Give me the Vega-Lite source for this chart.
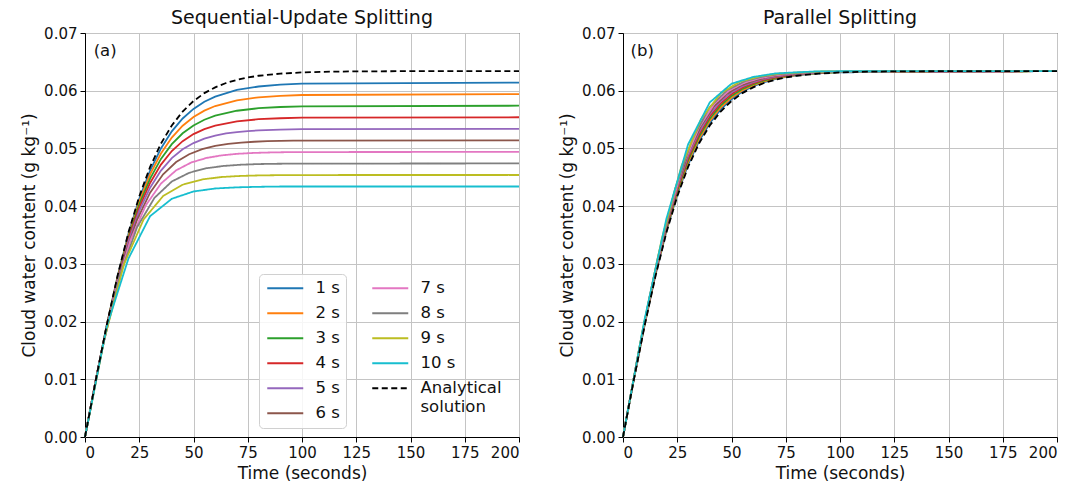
{
  "$schema": "https://vega.github.io/schema/vega-lite/v6.json",
  "padding": {"left": 20, "top": 8, "right": 5, "bottom": 5},
  "config": {
    "font": "DejaVu Sans",
    "view": {"stroke": "black", "strokeWidth": 1},
    "axis": {"grid": true, "gridColor": "#c4c4c4", "gridWidth": 1, "domainColor": "black", "tickColor": "black", "tickSize": 5, "labelFontSize": 15, "labelColor": "#111", "titleFontSize": 17, "titleFontWeight": "normal", "titleColor": "#111", "labelPadding": 3, "titlePadding": 5},
    "title": {"fontSize": 19, "fontWeight": "normal", "color": "#111", "offset": -2},
    "legend": {"symbolType": "M-1,0H5", "symbolSize": 144, "symbolStrokeWidth": 1.8, "labelFontSize": 16.5, "labelColor": "#111", "labelOffset": 34, "rowPadding": 8, "padding": 6, "labelLimit": 200, "orient": "none"},
    "concat": {"spacing": 34}
  },
  "datasets": {
    "d": [
      {"p":"a","s":"1 s","t":0,"y":0},{"p":"a","s":"1 s","t":5,"y":0.00991},{"p":"a","s":"1 s","t":10,"y":0.01932},{"p":"a","s":"1 s","t":15,"y":0.02782},{"p":"a","s":"1 s","t":20,"y":0.03516},{"p":"a","s":"1 s","t":25,"y":0.04126},{"p":"a","s":"1 s","t":30,"y":0.04617},{"p":"a","s":"1 s","t":35,"y":0.05},{"p":"a","s":"1 s","t":40,"y":0.05296},{"p":"a","s":"1 s","t":45,"y":0.05519},{"p":"a","s":"1 s","t":50,"y":0.05685},{"p":"a","s":"1 s","t":55,"y":0.05808},{"p":"a","s":"1 s","t":60,"y":0.05898},{"p":"a","s":"1 s","t":70,"y":0.06013},{"p":"a","s":"1 s","t":80,"y":0.06073},{"p":"a","s":"1 s","t":90,"y":0.06105},{"p":"a","s":"1 s","t":100,"y":0.06122},{"p":"a","s":"1 s","t":200,"y":0.0614},
      {"p":"a","s":"2 s","t":0,"y":0},{"p":"a","s":"2 s","t":5,"y":0.00991},{"p":"a","s":"2 s","t":10,"y":0.01928},{"p":"a","s":"2 s","t":15,"y":0.02768},{"p":"a","s":"2 s","t":20,"y":0.03488},{"p":"a","s":"2 s","t":25,"y":0.04079},{"p":"a","s":"2 s","t":30,"y":0.04549},{"p":"a","s":"2 s","t":35,"y":0.04912},{"p":"a","s":"2 s","t":40,"y":0.05188},{"p":"a","s":"2 s","t":45,"y":0.05393},{"p":"a","s":"2 s","t":50,"y":0.05544},{"p":"a","s":"2 s","t":55,"y":0.05655},{"p":"a","s":"2 s","t":60,"y":0.05735},{"p":"a","s":"2 s","t":70,"y":0.05834},{"p":"a","s":"2 s","t":80,"y":0.05886},{"p":"a","s":"2 s","t":90,"y":0.05912},{"p":"a","s":"2 s","t":100,"y":0.05926},{"p":"a","s":"2 s","t":200,"y":0.0594},
      {"p":"a","s":"3 s","t":0,"y":0},{"p":"a","s":"3 s","t":5,"y":0.0099},{"p":"a","s":"3 s","t":10,"y":0.01923},{"p":"a","s":"3 s","t":15,"y":0.02754},{"p":"a","s":"3 s","t":20,"y":0.03457},{"p":"a","s":"3 s","t":25,"y":0.04029},{"p":"a","s":"3 s","t":30,"y":0.04477},{"p":"a","s":"3 s","t":35,"y":0.04818},{"p":"a","s":"3 s","t":40,"y":0.05074},{"p":"a","s":"3 s","t":45,"y":0.05262},{"p":"a","s":"3 s","t":50,"y":0.05398},{"p":"a","s":"3 s","t":55,"y":0.05497},{"p":"a","s":"3 s","t":60,"y":0.05567},{"p":"a","s":"3 s","t":70,"y":0.05653},{"p":"a","s":"3 s","t":80,"y":0.05697},{"p":"a","s":"3 s","t":90,"y":0.05718},{"p":"a","s":"3 s","t":100,"y":0.05729},{"p":"a","s":"3 s","t":200,"y":0.0574},
      {"p":"a","s":"4 s","t":0,"y":0},{"p":"a","s":"4 s","t":5,"y":0.00989},{"p":"a","s":"4 s","t":10,"y":0.01917},{"p":"a","s":"4 s","t":15,"y":0.02737},{"p":"a","s":"4 s","t":20,"y":0.03424},{"p":"a","s":"4 s","t":25,"y":0.03975},{"p":"a","s":"4 s","t":30,"y":0.04401},{"p":"a","s":"4 s","t":35,"y":0.0472},{"p":"a","s":"4 s","t":40,"y":0.04955},{"p":"a","s":"4 s","t":45,"y":0.05126},{"p":"a","s":"4 s","t":50,"y":0.05248},{"p":"a","s":"4 s","t":55,"y":0.05335},{"p":"a","s":"4 s","t":60,"y":0.05396},{"p":"a","s":"4 s","t":70,"y":0.0547},{"p":"a","s":"4 s","t":80,"y":0.05506},{"p":"a","s":"4 s","t":90,"y":0.05523},{"p":"a","s":"4 s","t":100,"y":0.05532},{"p":"a","s":"4 s","t":200,"y":0.0554},
      {"p":"a","s":"5 s","t":0,"y":0},{"p":"a","s":"5 s","t":5,"y":0.00988},{"p":"a","s":"5 s","t":10,"y":0.01911},{"p":"a","s":"5 s","t":15,"y":0.0272},{"p":"a","s":"5 s","t":20,"y":0.03388},{"p":"a","s":"5 s","t":25,"y":0.03917},{"p":"a","s":"5 s","t":30,"y":0.04319},{"p":"a","s":"5 s","t":35,"y":0.04616},{"p":"a","s":"5 s","t":40,"y":0.04832},{"p":"a","s":"5 s","t":45,"y":0.04985},{"p":"a","s":"5 s","t":50,"y":0.05093},{"p":"a","s":"5 s","t":55,"y":0.05169},{"p":"a","s":"5 s","t":60,"y":0.05222},{"p":"a","s":"5 s","t":65,"y":0.05259},{"p":"a","s":"5 s","t":70,"y":0.05284},{"p":"a","s":"5 s","t":75,"y":0.05301},{"p":"a","s":"5 s","t":80,"y":0.05313},{"p":"a","s":"5 s","t":90,"y":0.05327},{"p":"a","s":"5 s","t":100,"y":0.05334},{"p":"a","s":"5 s","t":200,"y":0.0534},
      {"p":"a","s":"6 s","t":0,"y":0},{"p":"a","s":"6 s","t":6,"y":0.01179},{"p":"a","s":"6 s","t":12,"y":0.0224},{"p":"a","s":"6 s","t":18,"y":0.03108},{"p":"a","s":"6 s","t":24,"y":0.03764},{"p":"a","s":"6 s","t":30,"y":0.04233},{"p":"a","s":"6 s","t":36,"y":0.04552},{"p":"a","s":"6 s","t":42,"y":0.04764},{"p":"a","s":"6 s","t":48,"y":0.049},{"p":"a","s":"6 s","t":54,"y":0.04988},{"p":"a","s":"6 s","t":60,"y":0.05044},{"p":"a","s":"6 s","t":66,"y":0.0508},{"p":"a","s":"6 s","t":72,"y":0.05102},{"p":"a","s":"6 s","t":78,"y":0.05116},{"p":"a","s":"6 s","t":84,"y":0.05125},{"p":"a","s":"6 s","t":90,"y":0.05131},{"p":"a","s":"6 s","t":96,"y":0.05134},{"p":"a","s":"6 s","t":200,"y":0.0514},
      {"p":"a","s":"7 s","t":0,"y":0},{"p":"a","s":"7 s","t":7,"y":0.01364},{"p":"a","s":"7 s","t":14,"y":0.02534},{"p":"a","s":"7 s","t":21,"y":0.03415},{"p":"a","s":"7 s","t":28,"y":0.04013},{"p":"a","s":"7 s","t":35,"y":0.04391},{"p":"a","s":"7 s","t":42,"y":0.04621},{"p":"a","s":"7 s","t":49,"y":0.04757},{"p":"a","s":"7 s","t":56,"y":0.04835},{"p":"a","s":"7 s","t":63,"y":0.0488},{"p":"a","s":"7 s","t":70,"y":0.04906},{"p":"a","s":"7 s","t":77,"y":0.04921},{"p":"a","s":"7 s","t":84,"y":0.04929},{"p":"a","s":"7 s","t":91,"y":0.04934},{"p":"a","s":"7 s","t":98,"y":0.04937},{"p":"a","s":"7 s","t":200,"y":0.0494},
      {"p":"a","s":"8 s","t":0,"y":0},{"p":"a","s":"8 s","t":8,"y":0.01542},{"p":"a","s":"8 s","t":16,"y":0.02789},{"p":"a","s":"8 s","t":24,"y":0.03635},{"p":"a","s":"8 s","t":32,"y":0.04143},{"p":"a","s":"8 s","t":40,"y":0.04427},{"p":"a","s":"8 s","t":48,"y":0.04578},{"p":"a","s":"8 s","t":56,"y":0.04657},{"p":"a","s":"8 s","t":64,"y":0.04697},{"p":"a","s":"8 s","t":72,"y":0.04718},{"p":"a","s":"8 s","t":80,"y":0.04729},{"p":"a","s":"8 s","t":88,"y":0.04734},{"p":"a","s":"8 s","t":96,"y":0.04737},{"p":"a","s":"8 s","t":200,"y":0.0474},
      {"p":"a","s":"9 s","t":0,"y":0},{"p":"a","s":"9 s","t":9,"y":0.01711},{"p":"a","s":"9 s","t":18,"y":0.02996},{"p":"a","s":"9 s","t":27,"y":0.0377},{"p":"a","s":"9 s","t":36,"y":0.04175},{"p":"a","s":"9 s","t":45,"y":0.04371},{"p":"a","s":"9 s","t":54,"y":0.04463},{"p":"a","s":"9 s","t":63,"y":0.04505},{"p":"a","s":"9 s","t":72,"y":0.04524},{"p":"a","s":"9 s","t":81,"y":0.04533},{"p":"a","s":"9 s","t":90,"y":0.04537},{"p":"a","s":"9 s","t":99,"y":0.04539},{"p":"a","s":"9 s","t":200,"y":0.0454},
      {"p":"a","s":"10 s","t":0,"y":0},{"p":"a","s":"10 s","t":10,"y":0.0191},{"p":"a","s":"10 s","t":20,"y":0.0309},{"p":"a","s":"10 s","t":30,"y":0.03826},{"p":"a","s":"10 s","t":40,"y":0.04128},{"p":"a","s":"10 s","t":50,"y":0.04254},{"p":"a","s":"10 s","t":60,"y":0.04306},{"p":"a","s":"10 s","t":70,"y":0.04326},{"p":"a","s":"10 s","t":80,"y":0.04335},{"p":"a","s":"10 s","t":90,"y":0.0434},{"p":"a","s":"10 s","t":200,"y":0.0434},
      {"p":"a","s":"Analytical solution","t":0,"y":0},{"p":"a","s":"Analytical solution","t":5,"y":0.00992},{"p":"a","s":"Analytical solution","t":10,"y":0.01936},{"p":"a","s":"Analytical solution","t":15,"y":0.02793},{"p":"a","s":"Analytical solution","t":20,"y":0.03541},{"p":"a","s":"Analytical solution","t":25,"y":0.04169},{"p":"a","s":"Analytical solution","t":30,"y":0.0468},{"p":"a","s":"Analytical solution","t":35,"y":0.05083},{"p":"a","s":"Analytical solution","t":40,"y":0.05398},{"p":"a","s":"Analytical solution","t":45,"y":0.0564},{"p":"a","s":"Analytical solution","t":50,"y":0.05821},{"p":"a","s":"Analytical solution","t":55,"y":0.05958},{"p":"a","s":"Analytical solution","t":60,"y":0.06058},{"p":"a","s":"Analytical solution","t":65,"y":0.06133},{"p":"a","s":"Analytical solution","t":70,"y":0.06188},{"p":"a","s":"Analytical solution","t":75,"y":0.06229},{"p":"a","s":"Analytical solution","t":80,"y":0.06259},{"p":"a","s":"Analytical solution","t":90,"y":0.06296},{"p":"a","s":"Analytical solution","t":100,"y":0.06317},{"p":"a","s":"Analytical solution","t":110,"y":0.06328},{"p":"a","s":"Analytical solution","t":125,"y":0.06335},{"p":"a","s":"Analytical solution","t":150,"y":0.06339},{"p":"a","s":"Analytical solution","t":200,"y":0.0634},

      {"p":"b","s":"1 s","t":0,"y":0},{"p":"b","s":"1 s","t":5,"y":0.00998},{"p":"b","s":"1 s","t":10,"y":0.01947},{"p":"b","s":"1 s","t":15,"y":0.02811},{"p":"b","s":"1 s","t":20,"y":0.03565},{"p":"b","s":"1 s","t":25,"y":0.04201},{"p":"b","s":"1 s","t":30,"y":0.04719},{"p":"b","s":"1 s","t":35,"y":0.05123},{"p":"b","s":"1 s","t":40,"y":0.05438},{"p":"b","s":"1 s","t":45,"y":0.05675},{"p":"b","s":"1 s","t":50,"y":0.05851},{"p":"b","s":"1 s","t":55,"y":0.05982},{"p":"b","s":"1 s","t":60,"y":0.06076},{"p":"b","s":"1 s","t":65,"y":0.06148},{"p":"b","s":"1 s","t":70,"y":0.06199},{"p":"b","s":"1 s","t":75,"y":0.06238},{"p":"b","s":"1 s","t":80,"y":0.06265},{"p":"b","s":"1 s","t":85,"y":0.06286},{"p":"b","s":"1 s","t":90,"y":0.063},{"p":"b","s":"1 s","t":95,"y":0.06311},{"p":"b","s":"1 s","t":100,"y":0.06319},{"p":"b","s":"1 s","t":200,"y":0.0634},
      {"p":"b","s":"2 s","t":0,"y":0},{"p":"b","s":"2 s","t":5,"y":0.01003},{"p":"b","s":"2 s","t":10,"y":0.01958},{"p":"b","s":"2 s","t":15,"y":0.02828},{"p":"b","s":"2 s","t":20,"y":0.03589},{"p":"b","s":"2 s","t":25,"y":0.04232},{"p":"b","s":"2 s","t":30,"y":0.04758},{"p":"b","s":"2 s","t":35,"y":0.05162},{"p":"b","s":"2 s","t":40,"y":0.05478},{"p":"b","s":"2 s","t":45,"y":0.0571},{"p":"b","s":"2 s","t":50,"y":0.05881},{"p":"b","s":"2 s","t":55,"y":0.06006},{"p":"b","s":"2 s","t":60,"y":0.06094},{"p":"b","s":"2 s","t":65,"y":0.06162},{"p":"b","s":"2 s","t":70,"y":0.0621},{"p":"b","s":"2 s","t":75,"y":0.06246},{"p":"b","s":"2 s","t":80,"y":0.06271},{"p":"b","s":"2 s","t":85,"y":0.06291},{"p":"b","s":"2 s","t":90,"y":0.06304},{"p":"b","s":"2 s","t":95,"y":0.06314},{"p":"b","s":"2 s","t":100,"y":0.06321},{"p":"b","s":"2 s","t":200,"y":0.0634},
      {"p":"b","s":"3 s","t":0,"y":0},{"p":"b","s":"3 s","t":5,"y":0.01009},{"p":"b","s":"3 s","t":10,"y":0.01969},{"p":"b","s":"3 s","t":15,"y":0.02846},{"p":"b","s":"3 s","t":20,"y":0.03613},{"p":"b","s":"3 s","t":25,"y":0.04264},{"p":"b","s":"3 s","t":30,"y":0.04797},{"p":"b","s":"3 s","t":35,"y":0.05202},{"p":"b","s":"3 s","t":40,"y":0.05518},{"p":"b","s":"3 s","t":45,"y":0.05745},{"p":"b","s":"3 s","t":50,"y":0.05911},{"p":"b","s":"3 s","t":55,"y":0.0603},{"p":"b","s":"3 s","t":60,"y":0.06112},{"p":"b","s":"3 s","t":65,"y":0.06177},{"p":"b","s":"3 s","t":70,"y":0.06221},{"p":"b","s":"3 s","t":75,"y":0.06255},{"p":"b","s":"3 s","t":80,"y":0.06277},{"p":"b","s":"3 s","t":85,"y":0.06296},{"p":"b","s":"3 s","t":90,"y":0.06308},{"p":"b","s":"3 s","t":95,"y":0.06317},{"p":"b","s":"3 s","t":100,"y":0.06323},{"p":"b","s":"3 s","t":200,"y":0.0634},
      {"p":"b","s":"4 s","t":0,"y":0},{"p":"b","s":"4 s","t":5,"y":0.01014},{"p":"b","s":"4 s","t":10,"y":0.0198},{"p":"b","s":"4 s","t":15,"y":0.02863},{"p":"b","s":"4 s","t":20,"y":0.03637},{"p":"b","s":"4 s","t":25,"y":0.04295},{"p":"b","s":"4 s","t":30,"y":0.04836},{"p":"b","s":"4 s","t":35,"y":0.05241},{"p":"b","s":"4 s","t":40,"y":0.05558},{"p":"b","s":"4 s","t":45,"y":0.0578},{"p":"b","s":"4 s","t":50,"y":0.05941},{"p":"b","s":"4 s","t":55,"y":0.06054},{"p":"b","s":"4 s","t":60,"y":0.0613},{"p":"b","s":"4 s","t":65,"y":0.06191},{"p":"b","s":"4 s","t":70,"y":0.06232},{"p":"b","s":"4 s","t":75,"y":0.06263},{"p":"b","s":"4 s","t":80,"y":0.06283},{"p":"b","s":"4 s","t":85,"y":0.06301},{"p":"b","s":"4 s","t":90,"y":0.06312},{"p":"b","s":"4 s","t":95,"y":0.0632},{"p":"b","s":"4 s","t":100,"y":0.06325},{"p":"b","s":"4 s","t":200,"y":0.0634},
      {"p":"b","s":"5 s","t":0,"y":0},{"p":"b","s":"5 s","t":5,"y":0.0102},{"p":"b","s":"5 s","t":10,"y":0.01991},{"p":"b","s":"5 s","t":15,"y":0.02881},{"p":"b","s":"5 s","t":20,"y":0.03661},{"p":"b","s":"5 s","t":25,"y":0.04327},{"p":"b","s":"5 s","t":30,"y":0.04875},{"p":"b","s":"5 s","t":35,"y":0.05281},{"p":"b","s":"5 s","t":40,"y":0.05598},{"p":"b","s":"5 s","t":45,"y":0.05815},{"p":"b","s":"5 s","t":50,"y":0.05971},{"p":"b","s":"5 s","t":55,"y":0.06078},{"p":"b","s":"5 s","t":60,"y":0.06148},{"p":"b","s":"5 s","t":65,"y":0.06206},{"p":"b","s":"5 s","t":70,"y":0.06243},{"p":"b","s":"5 s","t":75,"y":0.06272},{"p":"b","s":"5 s","t":80,"y":0.06289},{"p":"b","s":"5 s","t":90,"y":0.06316},{"p":"b","s":"5 s","t":100,"y":0.06327},{"p":"b","s":"5 s","t":200,"y":0.0634},
      {"p":"b","s":"6 s","t":0,"y":0},{"p":"b","s":"6 s","t":6,"y":0.01226},{"p":"b","s":"6 s","t":12,"y":0.02374},{"p":"b","s":"6 s","t":18,"y":0.03385},{"p":"b","s":"6 s","t":24,"y":0.04233},{"p":"b","s":"6 s","t":30,"y":0.04914},{"p":"b","s":"6 s","t":36,"y":0.05392},{"p":"b","s":"6 s","t":42,"y":0.05731},{"p":"b","s":"6 s","t":48,"y":0.05947},{"p":"b","s":"6 s","t":54,"y":0.06085},{"p":"b","s":"6 s","t":60,"y":0.06166},{"p":"b","s":"6 s","t":66,"y":0.06229},{"p":"b","s":"6 s","t":72,"y":0.06267},{"p":"b","s":"6 s","t":78,"y":0.0629},{"p":"b","s":"6 s","t":84,"y":0.06308},{"p":"b","s":"6 s","t":90,"y":0.0632},{"p":"b","s":"6 s","t":96,"y":0.06327},{"p":"b","s":"6 s","t":200,"y":0.0634},
      {"p":"b","s":"7 s","t":0,"y":0},{"p":"b","s":"7 s","t":7,"y":0.01432},{"p":"b","s":"7 s","t":14,"y":0.02744},{"p":"b","s":"7 s","t":21,"y":0.03856},{"p":"b","s":"7 s","t":28,"y":0.04741},{"p":"b","s":"7 s","t":35,"y":0.0536},{"p":"b","s":"7 s","t":42,"y":0.05769},{"p":"b","s":"7 s","t":49,"y":0.06006},{"p":"b","s":"7 s","t":56,"y":0.0614},{"p":"b","s":"7 s","t":63,"y":0.06217},{"p":"b","s":"7 s","t":70,"y":0.06265},{"p":"b","s":"7 s","t":77,"y":0.06295},{"p":"b","s":"7 s","t":84,"y":0.06313},{"p":"b","s":"7 s","t":91,"y":0.06326},{"p":"b","s":"7 s","t":98,"y":0.06331},{"p":"b","s":"7 s","t":200,"y":0.0634},
      {"p":"b","s":"8 s","t":0,"y":0},{"p":"b","s":"8 s","t":8,"y":0.01637},{"p":"b","s":"8 s","t":16,"y":0.03103},{"p":"b","s":"8 s","t":24,"y":0.04293},{"p":"b","s":"8 s","t":32,"y":0.05167},{"p":"b","s":"8 s","t":40,"y":0.05718},{"p":"b","s":"8 s","t":48,"y":0.06011},{"p":"b","s":"8 s","t":56,"y":0.06162},{"p":"b","s":"8 s","t":64,"y":0.06242},{"p":"b","s":"8 s","t":72,"y":0.06287},{"p":"b","s":"8 s","t":80,"y":0.06307},{"p":"b","s":"8 s","t":88,"y":0.06326},{"p":"b","s":"8 s","t":96,"y":0.06332},{"p":"b","s":"8 s","t":200,"y":0.0634},
      {"p":"b","s":"9 s","t":0,"y":0},{"p":"b","s":"9 s","t":9,"y":0.01842},{"p":"b","s":"9 s","t":18,"y":0.0345},{"p":"b","s":"9 s","t":27,"y":0.04698},{"p":"b","s":"9 s","t":36,"y":0.0551},{"p":"b","s":"9 s","t":45,"y":0.05955},{"p":"b","s":"9 s","t":54,"y":0.06161},{"p":"b","s":"9 s","t":63,"y":0.06249},{"p":"b","s":"9 s","t":72,"y":0.06297},{"p":"b","s":"9 s","t":81,"y":0.06316},{"p":"b","s":"9 s","t":90,"y":0.06332},{"p":"b","s":"9 s","t":99,"y":0.06336},{"p":"b","s":"9 s","t":200,"y":0.0634},
      {"p":"b","s":"10 s","t":0,"y":0},{"p":"b","s":"10 s","t":10,"y":0.02046},{"p":"b","s":"10 s","t":20,"y":0.03781},{"p":"b","s":"10 s","t":30,"y":0.0507},{"p":"b","s":"10 s","t":40,"y":0.05798},{"p":"b","s":"10 s","t":50,"y":0.06121},{"p":"b","s":"10 s","t":60,"y":0.06238},{"p":"b","s":"10 s","t":70,"y":0.06298},{"p":"b","s":"10 s","t":80,"y":0.06319},{"p":"b","s":"10 s","t":90,"y":0.06336},{"p":"b","s":"10 s","t":100,"y":0.06337},{"p":"b","s":"10 s","t":200,"y":0.0634},
      {"p":"b","s":"Analytical solution","t":0,"y":0},{"p":"b","s":"Analytical solution","t":5,"y":0.00992},{"p":"b","s":"Analytical solution","t":10,"y":0.01936},{"p":"b","s":"Analytical solution","t":15,"y":0.02793},{"p":"b","s":"Analytical solution","t":20,"y":0.03541},{"p":"b","s":"Analytical solution","t":25,"y":0.04169},{"p":"b","s":"Analytical solution","t":30,"y":0.0468},{"p":"b","s":"Analytical solution","t":35,"y":0.05083},{"p":"b","s":"Analytical solution","t":40,"y":0.05398},{"p":"b","s":"Analytical solution","t":45,"y":0.0564},{"p":"b","s":"Analytical solution","t":50,"y":0.05821},{"p":"b","s":"Analytical solution","t":55,"y":0.05958},{"p":"b","s":"Analytical solution","t":60,"y":0.06058},{"p":"b","s":"Analytical solution","t":65,"y":0.06133},{"p":"b","s":"Analytical solution","t":70,"y":0.06188},{"p":"b","s":"Analytical solution","t":75,"y":0.06229},{"p":"b","s":"Analytical solution","t":80,"y":0.06259},{"p":"b","s":"Analytical solution","t":90,"y":0.06296},{"p":"b","s":"Analytical solution","t":100,"y":0.06317},{"p":"b","s":"Analytical solution","t":110,"y":0.06328},{"p":"b","s":"Analytical solution","t":125,"y":0.06335},{"p":"b","s":"Analytical solution","t":150,"y":0.06339},{"p":"b","s":"Analytical solution","t":200,"y":0.0634}
    ]
  },
  "resolve": {"scale": {"color": "independent", "strokeDash": "independent"}},
  "hconcat": [
    {
      "width": 434,
      "height": 404,
      "title": "Sequential-Update Splitting",
      "resolve": {"scale": {"color": "independent", "strokeDash": "independent"}},
      "layer": [
        {
          "data": {"name": "d"},
          "transform": [{"filter": "datum.p == 'a' && indexof(['1 s','2 s','3 s','4 s','5 s','6 s'], datum.s) >= 0"}],
          "mark": {"type": "line", "strokeWidth": 1.8},
          "encoding": {
            "x": {"field": "t", "type": "quantitative", "scale": {"domain": [0, 200], "nice": false}, "axis": {"values": [0, 25, 50, 75, 100, 125, 150, 175, 200], "title": "Time (seconds)"}},
            "y": {"field": "y", "type": "quantitative", "scale": {"domain": [0, 0.07], "nice": false}, "axis": {"values": [0, 0.01, 0.02, 0.03, 0.04, 0.05, 0.06, 0.07], "format": ".2f", "title": "Cloud water content (g kg⁻¹)"}},
            "color": {"field": "s", "type": "nominal",
              "scale": {"domain": ["1 s", "2 s", "3 s", "4 s", "5 s", "6 s"],
                        "range": ["#1f77b4", "#ff7f0e", "#2ca02c", "#d62728", "#9467bd", "#8c564b"]},
              "legend": {"title": "\u2003\u2003\u2003\u2003\u2003\u2003\u2003\u2003\u2003\u2003", "titleOrient": "right", "titleFontSize": 16.1, "titlePadding": 0, "legendX": 174, "legendY": 241, "fillColor": "rgba(255,255,255,0.85)", "strokeColor": "#d0d0d0", "cornerRadius": 4}}
          }
        },
        {
          "data": {"name": "d"},
          "transform": [{"filter": "datum.p == 'a' && indexof(['1 s','2 s','3 s','4 s','5 s','6 s'], datum.s) < 0"}],
          "mark": {"type": "line", "strokeWidth": 1.8},
          "encoding": {
            "x": {"field": "t", "type": "quantitative"},
            "y": {"field": "y", "type": "quantitative"},
            "color": {"field": "s", "type": "nominal",
              "scale": {"domain": ["7 s", "8 s", "9 s", "10 s", "Analytical solution"],
                        "range": ["#e377c2", "#7f7f7f", "#bcbd22", "#17becf", "#000000"]},
              "legend": {"title": null, "legendX": 279, "legendY": 241, "labelExpr": "datum.label == 'Analytical solution' ? ['Analytical', 'solution'] : datum.label"}},
            "strokeDash": {"field": "s", "type": "nominal",
              "scale": {"domain": ["7 s", "8 s", "9 s", "10 s", "Analytical solution"],
                        "range": [[1, 0], [1, 0], [1, 0], [1, 0], [6, 3.5]]},
              "legend": {"title": null, "legendX": 279, "legendY": 241, "labelExpr": "datum.label == 'Analytical solution' ? ['Analytical', 'solution'] : datum.label"}}
          }
        },
        {
          "data": {"values": [{"label": "(a)"}]},
          "mark": {"type": "text", "align": "left", "baseline": "middle", "fontSize": 16.5, "color": "#111"},
          "encoding": {"x": {"datum": 4}, "y": {"datum": 0.0669}, "text": {"field": "label"}}
        }
      ]
    },
    {
      "width": 434,
      "height": 404,
      "title": "Parallel Splitting",
      "layer": [
        {
          "data": {"name": "d"},
          "transform": [{"filter": "datum.p == 'b'"}],
          "mark": {"type": "line", "strokeWidth": 1.8},
          "encoding": {
            "x": {"field": "t", "type": "quantitative", "scale": {"domain": [0, 200], "nice": false}, "axis": {"values": [0, 25, 50, 75, 100, 125, 150, 175, 200], "title": "Time (seconds)"}},
            "y": {"field": "y", "type": "quantitative", "scale": {"domain": [0, 0.07], "nice": false}, "axis": {"values": [0, 0.01, 0.02, 0.03, 0.04, 0.05, 0.06, 0.07], "format": ".2f", "title": "Cloud water content (g kg⁻¹)"}},
            "color": {"field": "s", "type": "nominal",
              "scale": {"domain": ["1 s", "2 s", "3 s", "4 s", "5 s", "6 s", "7 s", "8 s", "9 s", "10 s", "Analytical solution"],
                        "range": ["#1f77b4", "#ff7f0e", "#2ca02c", "#d62728", "#9467bd", "#8c564b", "#e377c2", "#7f7f7f", "#bcbd22", "#17becf", "#000000"]},
              "legend": null},
            "strokeDash": {"field": "s", "type": "nominal",
              "scale": {"domain": ["1 s", "2 s", "3 s", "4 s", "5 s", "6 s", "7 s", "8 s", "9 s", "10 s", "Analytical solution"],
                        "range": [[1, 0], [1, 0], [1, 0], [1, 0], [1, 0], [1, 0], [1, 0], [1, 0], [1, 0], [1, 0], [6, 3.5]]},
              "legend": null}
          }
        },
        {
          "data": {"values": [{"label": "(b)"}]},
          "mark": {"type": "text", "align": "left", "baseline": "middle", "fontSize": 16.5, "color": "#111"},
          "encoding": {"x": {"datum": 3.5}, "y": {"datum": 0.0669}, "text": {"field": "label"}}
        }
      ]
    }
  ]
}
